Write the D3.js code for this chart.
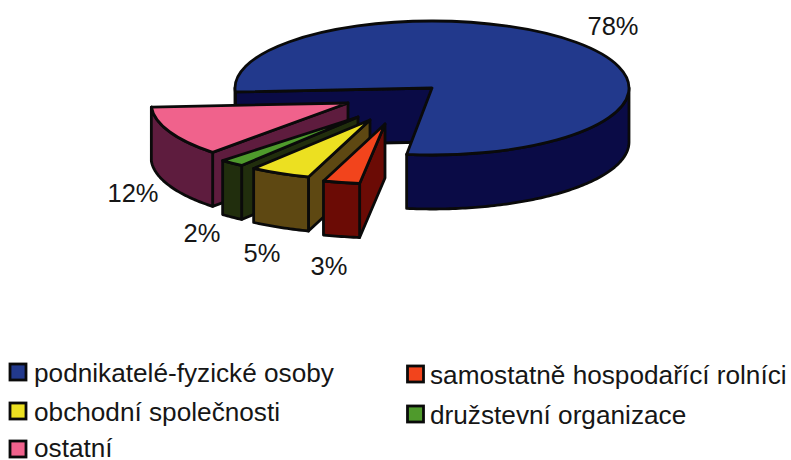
<!DOCTYPE html>
<html><head><meta charset="utf-8">
<script src="https://cdn.jsdelivr.net/npm/d3@7"></script>
<style>html,body{margin:0;background:#fff}svg{display:block}text{font-family:"Liberation Sans",Arial,sans-serif;fill:#161616}</style>
</head><body><svg id="c" width="791" height="460"></svg>
<script>
const categories = ["podnikatelé-fyzické osoby","samostatně hospodařící rolníci","obchodní společnosti","družstevní organizace","ostatní"];
const shares = [78,3,5,2,12];
const pctLabels = ["78%","3%","5%","2%","12%"];
const topColours = ["#22398c","#f2441c","#ece021","#4f9a2c","#f0628c"];
const wallColours = ["#0a0b46","#6b0b05","#5e4812","#212e0d","#5e1c3e"];

// layout (not data)
const rx = 197, depth = 54;
const apexX = [432,385,370,358,348];
const apexY = [88,124,120,117,103];
const tilt = [67,60,60,60,68];
const drawOrder = [0,4,3,2,1];
const labelPos = [[613,35],[329,275],[262,262],[202,242],[133,202]];
const legendPos = [[9,363,382,25],[406.5,365,384,23.5],[9,402,421,25],[406.5,405,424,23.5],[9,440,457,25]];

const svg = d3.select("#c");
const pie = d3.pie().sort(null).startAngle(266.6*Math.PI/180).endAngle((266.6+360)*Math.PI/180);
const arcs = pie(shares);
const line = d3.line();
const pt = (i,a)=>[apexX[i]+rx*Math.sin(a), apexY[i]-tilt[i]*Math.cos(a)];

function polar(i,a0,a1){
  const n = Math.max(2,Math.ceil((a1-a0)*60));
  return d3.range(n+1).map(k=>pt(i,a0+(a1-a0)*k/n));
}
drawOrder.forEach(i=>{
  const a = arcs[i], g = svg.append("g").attr("stroke","#0a0a0a").attr("stroke-width",2.8).attr("stroke-linejoin","round");
  const ax=apexX[i], ay=apexY[i], o=pt(i,a.startAngle);
  g.append("path").attr("fill",wallColours[i])
    .attr("d",line([[ax,ay],o,[o[0],o[1]+depth],[ax,ay+depth]])+"Z");
  const TAU=2*Math.PI;
  for(const k of [0,1]){
    const lo=Math.max(a.startAngle,Math.PI/2+k*TAU), hi=Math.min(a.endAngle,3*Math.PI/2+k*TAU);
    if(hi>lo){
      const top=polar(i,lo,hi), bottom=top.map(p=>[p[0],p[1]+depth]).reverse();
      g.append("path").attr("fill",wallColours[i]).attr("d",line(top.concat(bottom))+"Z");
    }
  }
  const arcGen=d3.arc().innerRadius(0).outerRadius(rx);
  g.append("path").attr("fill",topColours[i]).attr("vector-effect","non-scaling-stroke")
    .attr("transform",`translate(${ax},${ay}) scale(1,${tilt[i]/rx})`)
    .attr("d",arcGen({startAngle:a.startAngle,endAngle:a.endAngle}));
});
pctLabels.forEach((t,i)=>svg.append("text").attr("x",labelPos[i][0]).attr("y",labelPos[i][1])
  .attr("text-anchor","middle").attr("font-size",25.5).text(t));
categories.forEach((t,i)=>{
  const [x,y,b,off]=legendPos[i];
  svg.append("rect").attr("x",x+1).attr("y",y+1).attr("width",16).attr("height",16)
    .attr("fill",topColours[i]).attr("stroke","#0a0a0a").attr("stroke-width",2.8);
  svg.append("text").attr("x",x+off).attr("y",b).attr("font-size",26.2).text(t);
});
</script></body></html>
